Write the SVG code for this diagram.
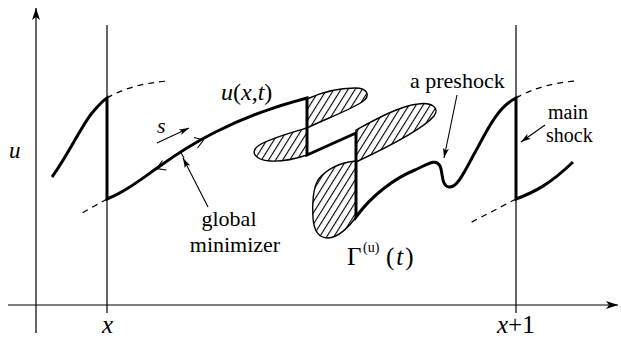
<svg xmlns="http://www.w3.org/2000/svg" width="621" height="339" viewBox="0 0 621 339">
<defs>
<style>
.thin{fill:none;stroke:#000;stroke-width:1.2}
.thick{fill:none;stroke:#000;stroke-width:3;stroke-linejoin:miter;stroke-linecap:butt}
.dash{fill:none;stroke:#000;stroke-width:1.2;stroke-dasharray:6,5}
.hatch{fill:url(#hatch);stroke:#000;stroke-width:1.4}
.ptr{fill:none;stroke:#000;stroke-width:1.1}
.it{font-style:italic}
</style>
<pattern id="hatch" patternUnits="userSpaceOnUse" width="6" height="6" patternTransform="rotate(32)">
<rect x="0" y="0" width="1.1" height="6" fill="#000"/>
</pattern>
<marker id="ah" viewBox="0 0 10 6" refX="10" refY="3" markerWidth="10" markerHeight="6" markerUnits="userSpaceOnUse" orient="auto">
<path d="M0,0 L10,3 L0,6 L2.5,3 Z" fill="#000"/>
</marker>
<marker id="axh" viewBox="0 0 12 8" refX="12" refY="4" markerWidth="12" markerHeight="8" markerUnits="userSpaceOnUse" orient="auto">
<path d="M0,0 L12,4 L0,8 L3,4 Z" fill="#000"/>
</marker>
</defs>

<g id="axes">
<line class="thin" x1="36" y1="333" x2="36" y2="8" marker-end="url(#axh)"/>
<line class="thin" x1="8" y1="305" x2="618" y2="305" marker-end="url(#axh)"/>
<line class="thin" x1="107" y1="25" x2="107" y2="313"/>
<line class="thin" x1="516" y1="25" x2="516" y2="313"/>
</g>

<g id="hatched-regions">
<path class="hatch" d="M307,99 C322,92 340,88 355,88 C368,88 371,96 362,102 C348,111 325,119 307,128 Z"/>
<path class="hatch" d="M307,128 C290,133 268,139 258,146 C250,152 255,160 270,161 C285,162 298,158 307,155 Z"/>
<path class="hatch" d="M356,130 C378,118 400,106 418,104 C432,102 440,108 434,116 C424,128 390,146 356,162 Z"/>
<path class="hatch" d="M356,161 C340,162 325,170 318,180 C313,188 312,205 313,218 C314,232 320,238 328,238 C338,238 350,226 356,217 Z"/>
</g>

<g id="dashed-extensions">
<path class="dash" d="M107,98 Q130,84 168,81"/>
<path class="dash" d="M107,199 L82,213"/>
<path class="dash" d="M516,98 Q540,84 575,81"/>
<path class="dash" d="M516,199 L468,224"/>
</g>

<g id="solution-curve">
<path class="thick" d="M52,177 C68,155 82,125 92,113 C98,106 102,101 107,98 L107,199 C125,192 140,180 160,166 C185,148 230,118 307,98 L307,155 L356,133 L356,217 C372,195 395,178 415,170 C428,164 436,158 440,166 C443,172 441,186 449,187 C458,188 465,170 478,147 C490,124 500,106 516,98 L516,199 C535,192 550,184 573,162"/>
</g>

<g id="connectors">
<path class="ptr" stroke-width="1.5" d="M194,137.5 L203.5,140 L197.5,148"/>
<path class="ptr" stroke-width="1.5" d="M162.5,160.5 L156.5,168.5 L166.5,170"/>
<line class="ptr" stroke-width="1.3" x1="180" y1="151" x2="184" y2="158"/>
<line class="ptr" x1="157" y1="143" x2="189" y2="128" marker-end="url(#ah)"/>
<line class="ptr" x1="208" y1="207" x2="183" y2="158" marker-end="url(#ah)"/>
<line class="ptr" x1="457" y1="95" x2="444" y2="158" marker-end="url(#ah)"/>
<line class="ptr" x1="545" y1="125" x2="521" y2="142" marker-end="url(#ah)"/>
</g>

<g id="labels" font-family="'Liberation Serif','Noto Serif','DejaVu Serif',Georgia,serif" fill="#000">
<text class="it" x="9" y="158" font-size="23">u</text>
<text x="221" y="100" font-size="24"><tspan class="it">u</tspan>(<tspan class="it">x</tspan>,<tspan class="it">t</tspan>)</text>
<text class="it" x="157" y="133" font-size="22">s</text>
<text x="229" y="226" font-size="22" text-anchor="middle">global</text>
<text x="235" y="252" font-size="22" text-anchor="middle">minimizer</text>
<text x="410" y="88" font-size="22">a preshock</text>
<text x="548" y="119" font-size="20">main</text>
<text x="546" y="142" font-size="20">shock</text>
<text x="347" y="265" font-size="25">Γ</text>
<text x="363" y="252" font-size="14">(u)</text>
<text x="386" y="265" font-size="25">(<tspan class="it" dx="2">t</tspan><tspan dx="2">)</tspan></text>
<text class="it" x="102" y="333" font-size="25">x</text>
<text x="497" y="333" font-size="25"><tspan class="it">x</tspan>+1</text>
</g>
</svg>
